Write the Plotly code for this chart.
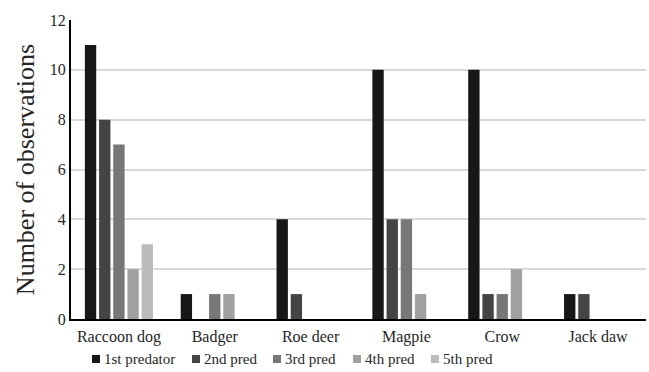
import plotly.graph_objects as go

categories = ["Raccoon dog", "Badger", "Roe deer", "Magpie", "Crow", "Jack daw"]
series_names = ["1st predator", "2nd pred", "3rd pred", "4th pred", "5th pred"]
pred1 = [11, 1, 4, 10, 10, 1]
pred2 = [8, 0, 1, 4, 1, 1]
pred3 = [7, 1, 0, 4, 1, 0]
pred4 = [2, 1, 0, 1, 2, 0]
pred5 = [3, 0, 0, 0, 0, 0]
y_ticks = [0, 2, 4, 6, 8, 10, 12]

series_values = [pred1, pred2, pred3, pred4, pred5]
colors = ["#171717", "#444444", "#777777", "#a0a0a0", "#bbbbbb"]
legend_sq_px = [92, 192, 273, 353, 431]

FONT = "Liberation Serif, Times New Roman, DejaVu Serif, serif"
L, R, T, B = 71, 3, 20, 53
W, H = 649, 372
PW, PH = W - L - R, H - T - B

def px_x(px):
    return (px - L) / PW

def px_y(py):
    return (H - B - py) / PH

fig = go.Figure()
for name, vals, c in zip(series_names, series_values, colors):
    fig.add_trace(go.Bar(x=categories, y=vals, name=name, marker_color=c,
                         marker_line_width=0, showlegend=False))

# legend: square swatch + label
LEG_Y = 359
for name, c, px in zip(series_names, colors, legend_sq_px):
    fig.add_shape(type="rect", xref="paper", yref="paper",
                  x0=px_x(px), x1=px_x(px + 8), y0=px_y(LEG_Y + 4), y1=px_y(LEG_Y - 4),
                  fillcolor=c, line_width=0)
    fig.add_annotation(
        xref="paper", yref="paper",
        x=px_x(px + 10), y=px_y(LEG_Y),
        xanchor="left", yanchor="middle", showarrow=False,
        text=name, font=dict(family=FONT, size=15, color="#262626"),
    )

fig.update_layout(
    width=W, height=H,
    margin=dict(l=L, r=R, t=T, b=B),
    paper_bgcolor="white", plot_bgcolor="white",
    barmode="group", bargap=0.26, bargroupgap=0.2,
    font=dict(family=FONT, color="#262626", size=16),
    showlegend=False,
)
fig.update_xaxes(showline=True, linecolor="black", linewidth=2, ticks="",
                 tickfont=dict(size=16), automargin=False, ticklabelstandoff=2)
fig.update_yaxes(range=[0, 12], tickvals=y_ticks, showgrid=True, gridcolor="#d9d9d9",
                 gridwidth=2, showline=True, linecolor="black", linewidth=2,
                 zeroline=False, ticks="", tickfont=dict(size=16), automargin=False,
                 title=dict(text="Number of observations", font=dict(size=26), standoff=8))

fig.write_html("out.html", config={"displayModeBar": False},
               post_script="document.body.style.margin='0';document.body.style.padding='0';")
